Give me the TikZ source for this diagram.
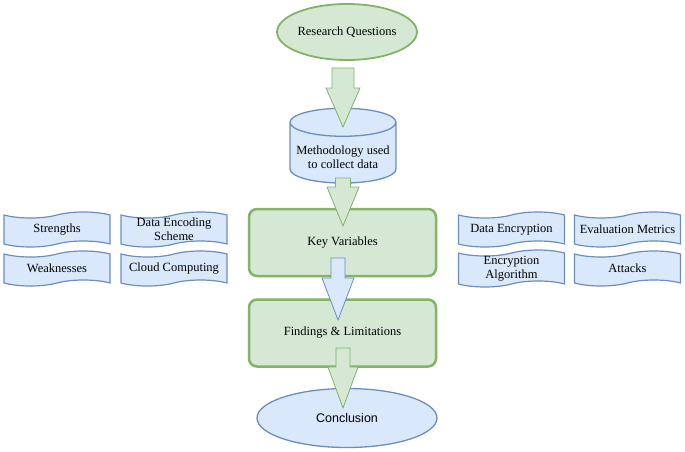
\documentclass[tikz,border=0pt]{standalone}
\usepackage{fontspec}
\setmainfont{Liberation Serif}
\newfontfamily\timesfont{Liberation Serif}
\newfontfamily\arialfont{Liberation Sans}
\usetikzlibrary{shapes.geometric, shapes.symbols, calc}

\definecolor{greenfill}{HTML}{D5E8D4}
\definecolor{greenline}{HTML}{82B366}
\definecolor{bluefill}{HTML}{DAE8FC}
\definecolor{blueline}{HTML}{6C8EBF}

% block arrow pointing down: style, from, to, head length, shaft half width, head half width
\newcommand{\bigarrow}[6]{%
  \draw[#1] let \p1=(#2), \p2=(#3) in
    (\x1-#5pt,\y1) -- (\x1+#5pt,\y1) -- (\x1+#5pt,\y2+#4pt) -- (\x1+#6pt,\y2+#4pt)
    -- (\x1,\y2) -- (\x1-#6pt,\y2+#4pt) -- (\x1-#5pt,\y2+#4pt) -- cycle;
}

\tikzset{
  txt/.style={font=\timesfont\fontsize{12.5}{14}\selectfont, align=center, inner sep=0pt},
  greenbox/.style={txt, rectangle, rounded corners=8pt, draw=greenline, fill=greenfill,
    line width=2.5pt, minimum width=187pt, minimum height=67pt},
  tapebox/.style={txt, tape, draw=blueline, fill=bluefill, line width=1.2pt,
    minimum width=106pt, minimum height=35pt, tape bend height=6pt},
  greenarrow/.style={draw=greenline, fill=greenfill, line width=0.8pt, line join=miter},
  bluearrow/.style={draw=blueline, fill=bluefill, line width=0.8pt, line join=miter},
}

\begin{document}
\begin{tikzpicture}[x=1pt, y=-1pt]
    \useasboundingbox (0,0) rectangle (685,452);

    % side topics
    \node[tapebox] (str) at (57,229.5) {Strengths};
    \node[tapebox] (des) at (174,229.5) {Data Encoding\\Scheme};
    \node[tapebox] (weak) at (57,268.5) {Weaknesses};
    \node[tapebox] (cloud) at (174,268.5) {Cloud Computing};
    \node[tapebox] (denc) at (511.5,229.5) {Data Encryption};
    \node[tapebox] (eval) at (627.5,229.5) {Evaluation Metrics};
    \node[tapebox] (ealg) at (511.5,268.5) {Encryption\\Algorithm};
    \node[tapebox] (att) at (627.5,268.5) {Attacks};

    % main column
    \node[txt, ellipse, draw=greenline, fill=greenfill, line width=1.8pt,
      minimum width=136pt, minimum height=56pt] (rq) at (347,32) {Research Questions};
    \node[txt, cylinder, shape border rotate=90, aspect=0.3, draw=blueline, fill=bluefill,
      line width=1.3pt, minimum width=106pt, minimum height=52pt] (meth) at (343,153)
      {\rule{0pt}{18pt}Methodology used\\to collect data};
    \node[greenbox] (key) at (342.5,242.5) {Key Variables};
    \node[greenbox] (find) at (342.5,333) {Findings \& Limitations};
    \node[txt, ellipse, draw=blueline, fill=bluefill, line width=1.3pt,
      minimum width=180pt, minimum height=59pt, font=\arialfont\fontsize{12.5}{14}\selectfont]
      (concl) at (347,418) {Conclusion};

    % block arrows between the steps
    \coordinate (a1s) at (343,68);  \coordinate (a1e) at (343,127);
    \coordinate (a2s) at (343,178); \coordinate (a2e) at (343,226);
    \coordinate (a3s) at (338,258); \coordinate (a3e) at (338,320);
    \coordinate (a4s) at (343,348); \coordinate (a4e) at (343,408);
    \bigarrow{greenarrow}{a1s}{a1e}{39}{11}{17}
    \bigarrow{greenarrow}{a2s}{a2e}{39}{7.5}{16}
    \bigarrow{bluearrow}{a3s}{a3e}{42}{7}{16}
    \bigarrow{greenarrow}{a4s}{a4e}{41}{7}{15}
\end{tikzpicture}
\end{document}
